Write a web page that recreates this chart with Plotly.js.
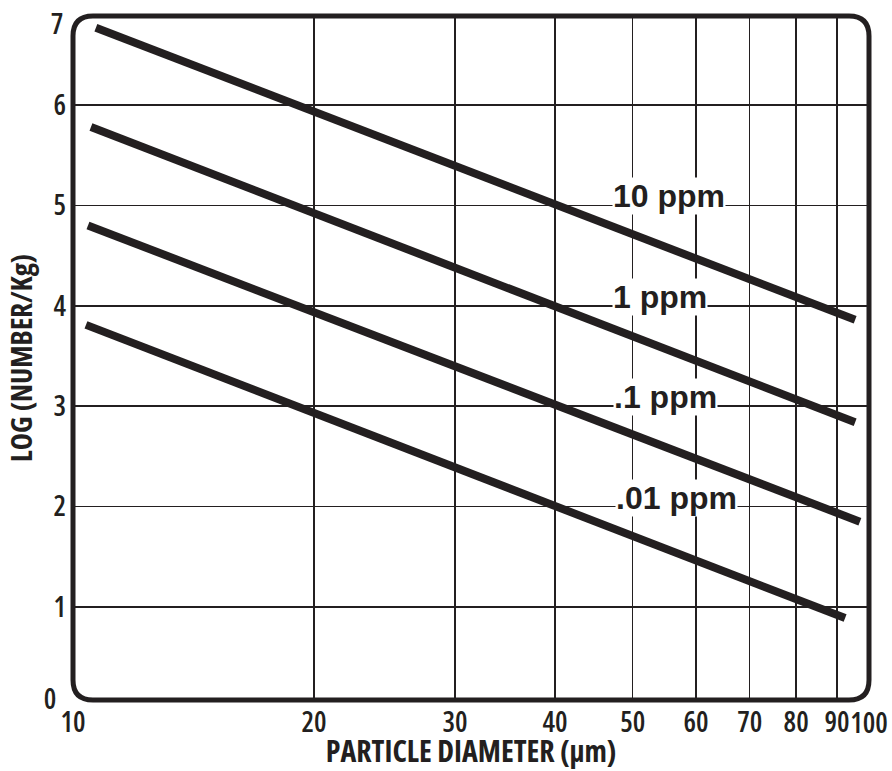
<!DOCTYPE html>
<html>
<head>
<meta charset="utf-8">
<script src="https://cdn.plot.ly/plotly-3.0.1.min.js"></script>
<style>
html,body{margin:0;padding:0;background:#fff;}
#chart{width:892px;height:771px;}
#chart .xtick text, #chart .ytick text, #chart .g-xtitle text, #chart .g-ytitle text, #chart .annotation-text.cond { font-stretch: 75% !important; }
</style>
</head>
<body>
<div id="chart"></div>
<script>
// ---- data ----
const seriesLabels = ['10 ppm', '1 ppm', '.1 ppm', '.01 ppm'];
const ppm10Diam = [10.68, 94.8];
const ppm10Log  = [6.77, 3.86];
const ppm1Diam  = [10.53, 94.8];
const ppm1Log   = [5.78, 2.84];
const ppm01Diam = [10.44, 96.1];
const ppm01Log  = [4.80, 1.85];
const ppm001Diam = [10.38, 92.1];
const ppm001Log  = [3.81, 0.89];
const labelGridValues = [5, 4, 3, 2];   // label sits on these gridlines
const xTickVals = [10, 20, 30, 40, 50, 60, 70, 80, 90];
const xTickText = ['10', '20', '30', '40', '50', '60', '70', '80', '90'];
const xEndLabel = '100';
const yTickVals = [1, 2, 3, 4, 5, 6];
const yTickText = ['1', '2', '3', '4', '5', '6'];
const yEndLabels = ['0', '7'];

const INK = '#231f20';
const NARROW = '"Open Sans", "DejaVu Sans Condensed", "DejaVu Sans", sans-serif';
const BOLD = '"Liberation Sans", Arial, sans-serif';

const xs = [ppm10Diam, ppm1Diam, ppm01Diam, ppm001Diam];
const ys = [ppm10Log, ppm1Log, ppm01Log, ppm001Log];

const traces = xs.map((x, i) => ({
  type: 'scatter', mode: 'lines', x: x, y: ys[i], name: seriesLabels[i],
  line: {color: INK, width: 8}, hoverinfo: 'skip', showlegend: false
}));

const W = 796, H = 684;
const rx = 20 / W, ry = 20 / H;
const borderPath = `M ${rx},0 L ${1-rx},0 Q 1,0 1,${ry} L 1,${1-ry} Q 1,1 ${1-rx},1 L ${rx},1 Q 0,1 0,${1-ry} L 0,${ry} Q 0,0 ${rx},0 Z`;

const labelX = [1.673, 1.673, 1.674, 1.677];
const annotations = seriesLabels.map((t, i) => ({
  text: '<b>' + t + '</b>', xref: 'x', yref: 'y',
  x: labelX[i], y: labelGridValues[i] + 0.09,
  xanchor: 'left', yanchor: 'middle', showarrow: false,
  bgcolor: '#ffffff', borderpad: 0,
  font: {family: BOLD, size: 32, color: INK}
}));
const tickFont = {family: NARROW, size: 28, color: INK, weight: 600};
annotations.push({
  text: yEndLabels[1], xref: 'paper', yref: 'paper', x: -0.0075, y: 0.99,
  xanchor: 'right', yanchor: 'middle', showarrow: false, font: tickFont
});
annotations.push({
  text: yEndLabels[0], xref: 'paper', yref: 'paper', x: -0.016, y: 0.003,
  xanchor: 'right', yanchor: 'middle', showarrow: false, font: tickFont
});
annotations.push({
  text: xEndLabel, xref: 'paper', yref: 'paper', x: 1.0, y: -0.0315,
  xanchor: 'center', yanchor: 'middle', showarrow: false, font: tickFont
});

const layout = {
  width: 892, height: 771,
  margin: {l: 73, r: 23, t: 16, b: 71},
  paper_bgcolor: '#ffffff', plot_bgcolor: '#ffffff',
  showlegend: false,
  xaxis: {
    type: 'log', range: [1, 1.9941],
    tickmode: 'array', tickvals: xTickVals, ticktext: xTickText,
    tickangle: 0,
    showgrid: true, gridcolor: INK, gridwidth: 1.5,
    zeroline: false, showline: false, ticks: '',
    ticklabelstandoff: 3,
    tickfont: tickFont,
    title: {text: '<b>PARTICLE DIAMETER (μm)</b>', standoff: 6,
            font: {family: NARROW, size: 30, color: INK}}
  },
  yaxis: {
    range: [0.074, 6.886],
    tickmode: 'array', tickvals: yTickVals, ticktext: yTickText,
    showgrid: true, gridcolor: INK, gridwidth: 1.5,
    zeroline: false, showline: false, ticks: '',
    ticklabelstandoff: 6,
    tickfont: tickFont,
    title: {text: '<b>LOG (NUMBER/Kg)</b>', standoff: 8,
            font: {family: NARROW, size: 29, color: INK}}
  },
  shapes: [{
    type: 'path', xref: 'paper', yref: 'paper', path: borderPath,
    line: {color: INK, width: 5}, layer: 'above'
  }],
  annotations: annotations
};

Plotly.newPlot('chart', traces, layout, {displayModeBar: false, staticPlot: true}).then(gd => {
  gd.querySelectorAll('.annotation-text').forEach(t => {
    const s = t.textContent;
    if (yEndLabels.includes(s) || s === xEndLabel) t.classList.add('cond');
  });
});
</script>
</body>
</html>
